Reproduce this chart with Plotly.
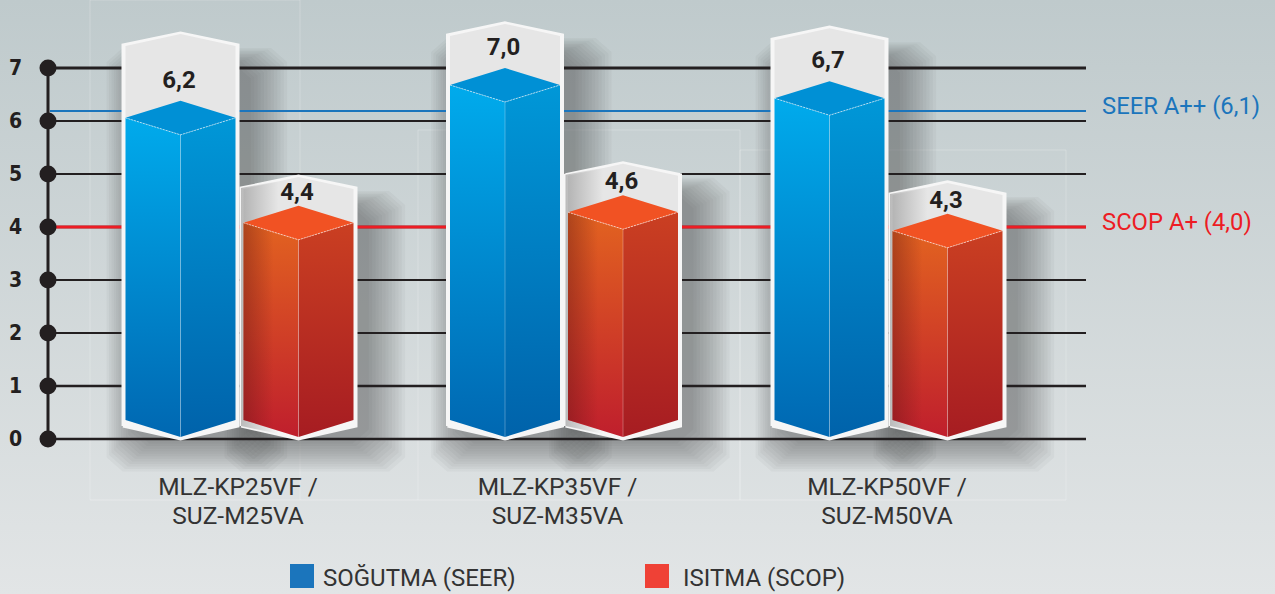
import plotly.graph_objects as go

model_line1 = ["MLZ-KP25VF /", "MLZ-KP35VF /", "MLZ-KP50VF /"]
model_line2 = ["SUZ-M25VA", "SUZ-M35VA", "SUZ-M50VA"]
seer_labels = ["6,2", "7,0", "6,7"]
scop_labels = ["4,4", "4,6", "4,3"]
seer_heights = [6.38, 7.0, 6.75]
scop_heights = [4.40, 4.60, 4.25]
seer_panel_tops = [7.68, 7.87, 7.79]
scop_panel_tops = [4.98, 5.23, 4.87]
ticks = [0, 1, 2, 3, 4, 5, 6, 7]
tick_widths = [2.5, 2.5, 2, 2, 2.5, 2, 2, 3]
seer_ref = 6.19
scop_ref = 4.0
seer_ref_label = "SEER A++ (6,1)"
scop_ref_label = "SCOP A+ (4,0)"
legend_names = ["SOĞUTMA (SEER)", "ISITMA (SCOP)"]

PX_W, PX_H = 1275, 594
PXX = 324.5   # pixels per group
PXY = 53.0    # pixels per value unit
X0 = 239.5
Y0 = 439.0
def X(p): return (p - X0) / PXX
def Y(p): return (Y0 - p) / PXY
dx = 1 / PXX
dy = 1 / PXY
xr = [X(0), X(PX_W)]
yr = [Y(PX_H), Y(0)]

fig = go.Figure()

def poly(xs, ys, color=None, grad=None, line=None, lw=0):
    kw = {}
    if grad is not None:
        kw["fillgradient"] = grad
    else:
        kw["fillcolor"] = color
    fig.add_trace(go.Scatter(
        x=xs, y=ys, mode="lines", fill="toself",
        line=dict(color=line or "rgba(0,0,0,0)", width=lw),
        hoverinfo="skip", showlegend=False, **kw))

def vgrad(bottom, top, y0, y1):
    return dict(type="vertical", colorscale=[[0, bottom], [1, top]], start=y0, stop=y1)

def hgrad(left, right, x0, x1):
    return dict(type="horizontal", colorscale=[[0, left], [1, right]], start=x0, stop=x1)

BAR_HW = 55 * dx
FRAME_HW = 57.5 * dx
DIA = 17 * dy
OFFSET = 59 * dx

BLUE = dict(lt="#00aeef", lb="#0067b1", rt="#009ada", rb="#0062aa", top="#0090d5", shade=None, lab=19)
RED = dict(lt="#e5681f", lb="#bf1e2d", rt="#cd4222", rb="#a61c22", top="#f15223",
           shade="rgba(90,20,20,0.38)", lab=12)

SHADOW_LAYERS = 12
def draw_shadow(cx, panel):
    # soft shadow from stacked low-alpha outlines that grow outward
    for k in range(SHADOW_LAYERS, 0, -1):
        g = k * 3.0
        xl = cx - 59 * dx + 14 * dx - g * 0.8 * dx
        xh = cx + 59 * dx + 8 * dx + g * dx * 1.1
        yb = -2 * dy - g * 0.85 * dy
        yt = panel - 34 * dy + g * dy * 0.5
        c = 16 * dx
        poly([xl + c, xh - c, xh, xh, xh - c, xl + c, xl, xl, xl + c],
             [yb, yb, yb + 14 * dy, yt - 14 * dy, yt, yt, yt - 14 * dy, yb + 14 * dy, yb],
             color="rgba(55,62,62,0.038)")

def draw_bar(cx, h, panel, lab, c, grey_left):
    xl, xr_, fl, fr = cx - BAR_HW, cx + BAR_HW, cx - FRAME_HW, cx + FRAME_HW
    bot_front = 2 * dy
    bot_side = 19 * dy
    sh_top = panel - 13 * dy
    # frame
    poly([fl, cx, fr, fr, cx, fl, fl], [13 * dy, 0, 13 * dy, sh_top, panel - 1 * dy, sh_top, 13 * dy],
         color="#f6f6f6", line="#f6f6f6", lw=3)
    poly([xl, cx, xr_, xr_, cx, xl, xl], [h - 17 * dy, h - 34 * dy, h - 17 * dy, sh_top - 1 * dy, panel - 2 * dy, sh_top - 1 * dy, h - 17 * dy],
         color="#e6e6e6")
    if grey_left:
        poly([fl, cx - 20 * dx, cx - 20 * dx, fl], [13 * dy, 5 * dy, panel - 6 * dy, sh_top],
             grad=hgrad("rgba(90,90,90,0.38)", "rgba(90,90,90,0)", fl, cx - 20 * dx))
    # faces
    y_top_side = h - DIA
    y_front = h - 2 * DIA
    poly([xl, cx, cx, xl], [bot_side, bot_front, y_front, y_top_side],
         grad=vgrad(c["lb"], c["lt"], 0, h))
    if c["shade"]:
        poly([xl, xl + 30 * dx, xl + 30 * dx, xl], [bot_side, bot_front + 9 * dy, y_top_side - 9 * dy, y_top_side],
             grad=hgrad(c["shade"], "rgba(90,20,20,0)", xl, xl + 30 * dx))
    poly([cx, xr_, xr_, cx], [bot_front, bot_side, y_top_side, y_front],
         grad=vgrad(c["rb"], c["rt"], 0, h))
    poly([xl, cx, xr_, cx, xl], [y_top_side, h, y_top_side, y_front, y_top_side], color=c["top"])
    # edge highlights
    fig.add_trace(go.Scatter(x=[xl, cx, xr_], y=[y_top_side, y_front, y_top_side], mode="lines",
                             line=dict(color="rgba(255,255,255,0.6)", width=1, dash="2px,1px"),
                             hoverinfo="skip", showlegend=False))
    fig.add_trace(go.Scatter(x=[cx, cx], y=[bot_front, y_front], mode="lines",
                             line=dict(color="rgba(255,255,255,0.28)", width=1),
                             hoverinfo="skip", showlegend=False))
    # value label
    fig.add_trace(go.Scatter(x=[cx - 1.5 * dx], y=[h + c["lab"] * dy], mode="text", text=[lab],
                             textfont=dict(family="Roboto", size=24, color="#231f20", weight="bold"),
                             hoverinfo="skip", showlegend=False))

# background
poly([xr[0], xr[1], xr[1], xr[0]], [yr[0], yr[0], yr[1], yr[1]],
     grad=vgrad("#e2e5e6", "#bfcacc", yr[0], yr[1]))

# faint panel outlines
for x0, x1, top in [(90, 300, 0), (418, 740, 130), (740, 1066, 150)]:
    fig.add_trace(go.Scatter(x=[X(x0), X(x0), X(x1), X(x1)], y=[Y(500), Y(top), Y(top), Y(500)],
                             mode="lines", line=dict(color="rgba(255,255,255,0.22)", width=1),
                             hoverinfo="skip", showlegend=False))
fig.add_trace(go.Scatter(x=[X(90), X(1066)], y=[Y(500), Y(500)], mode="lines",
                         line=dict(color="rgba(255,255,255,0.3)", width=1), hoverinfo="skip", showlegend=False))

# shadows sit under the lines
for i in range(len(model_line1)):
    draw_shadow(i - OFFSET, seer_panel_tops[i])
    draw_shadow(i + OFFSET, scop_panel_tops[i])

# gridlines
gx0, gx1 = X(50), X(1086)
for t, w in zip(ticks, tick_widths):
    fig.add_trace(go.Scatter(x=[gx0, gx1], y=[t, t], mode="lines",
                             line=dict(color="#231f20", width=w), hoverinfo="skip", showlegend=False))
# reference lines
fig.add_trace(go.Scatter(x=[gx0, gx1], y=[seer_ref, seer_ref], mode="lines",
                         line=dict(color="#1b75bc", width=2), hoverinfo="skip", showlegend=False))
fig.add_trace(go.Scatter(x=[X(50), gx1], y=[scop_ref, scop_ref], mode="lines",
                         line=dict(color="#ed1c24", width=3), hoverinfo="skip", showlegend=False))
# axis spine and dots
fig.add_trace(go.Scatter(x=[X(48)] * len(ticks), y=ticks, mode="lines+markers",
                         line=dict(color="#231f20", width=3),
                         marker=dict(color="#231f20", size=17),
                         hoverinfo="skip", showlegend=False))

for i in range(len(model_line1)):
    draw_bar(i - OFFSET, seer_heights[i], seer_panel_tops[i], seer_labels[i], BLUE, False)
    draw_bar(i + OFFSET, scop_heights[i], scop_panel_tops[i], scop_labels[i], RED, True)

# category labels (the reference places them slightly left of the group centres)
label_x = [X(238), X(557.5), X(887)]
for names, py in [(model_line1, 489), (model_line2, 518)]:
    fig.add_trace(go.Scatter(x=label_x, y=[Y(py)] * len(names), mode="text", text=names,
                             textfont=dict(family="Roboto", size=24.5, color="#333333"),
                             hoverinfo="skip", showlegend=False))

# reference labels
fig.add_trace(go.Scatter(x=[X(1102), X(1102)], y=[Y(108), Y(224)], mode="text",
                         text=[seer_ref_label, scop_ref_label], textposition="middle right",
                         textfont=dict(family="Roboto", size=23.8, color=["#1b75bc", "#ed1c24"]),
                         hoverinfo="skip", showlegend=False))

# legend
fig.add_trace(go.Scatter(x=[X(302), X(657)], y=[Y(576), Y(576)], mode="markers",
                         marker=dict(symbol="square", size=24, color=["#1b75bc", "#ef4136"]),
                         hoverinfo="skip", showlegend=False))
fig.add_trace(go.Scatter(x=[X(323), X(683)], y=[Y(580), Y(580)], mode="text",
                         text=legend_names, textposition="middle right",
                         textfont=dict(family="Roboto", size=24, color="#333333"),
                         hoverinfo="skip", showlegend=False))

fig.update_layout(
    width=PX_W, height=PX_H, margin=dict(l=0, r=0, t=0, b=0),
    showlegend=False, paper_bgcolor="#d5dadb", plot_bgcolor="rgba(0,0,0,0)",
    xaxis=dict(range=xr, visible=False, fixedrange=True),
    yaxis=dict(range=yr, showgrid=False, zeroline=False, showline=False, fixedrange=True,
               tickmode="array", tickvals=ticks, ticktext=[str(t) for t in ticks],
               ticks="", ticklabelposition="inside", ticklabelstandoff=6,
               tickfont=dict(family="DejaVu Sans Condensed, Roboto", size=21, color="#231f20", weight="bold")),
)
fig.write_html("out.html", config=dict(displayModeBar=False),
               post_script="document.body.style.margin='0';document.documentElement.style.overflow='hidden';")
